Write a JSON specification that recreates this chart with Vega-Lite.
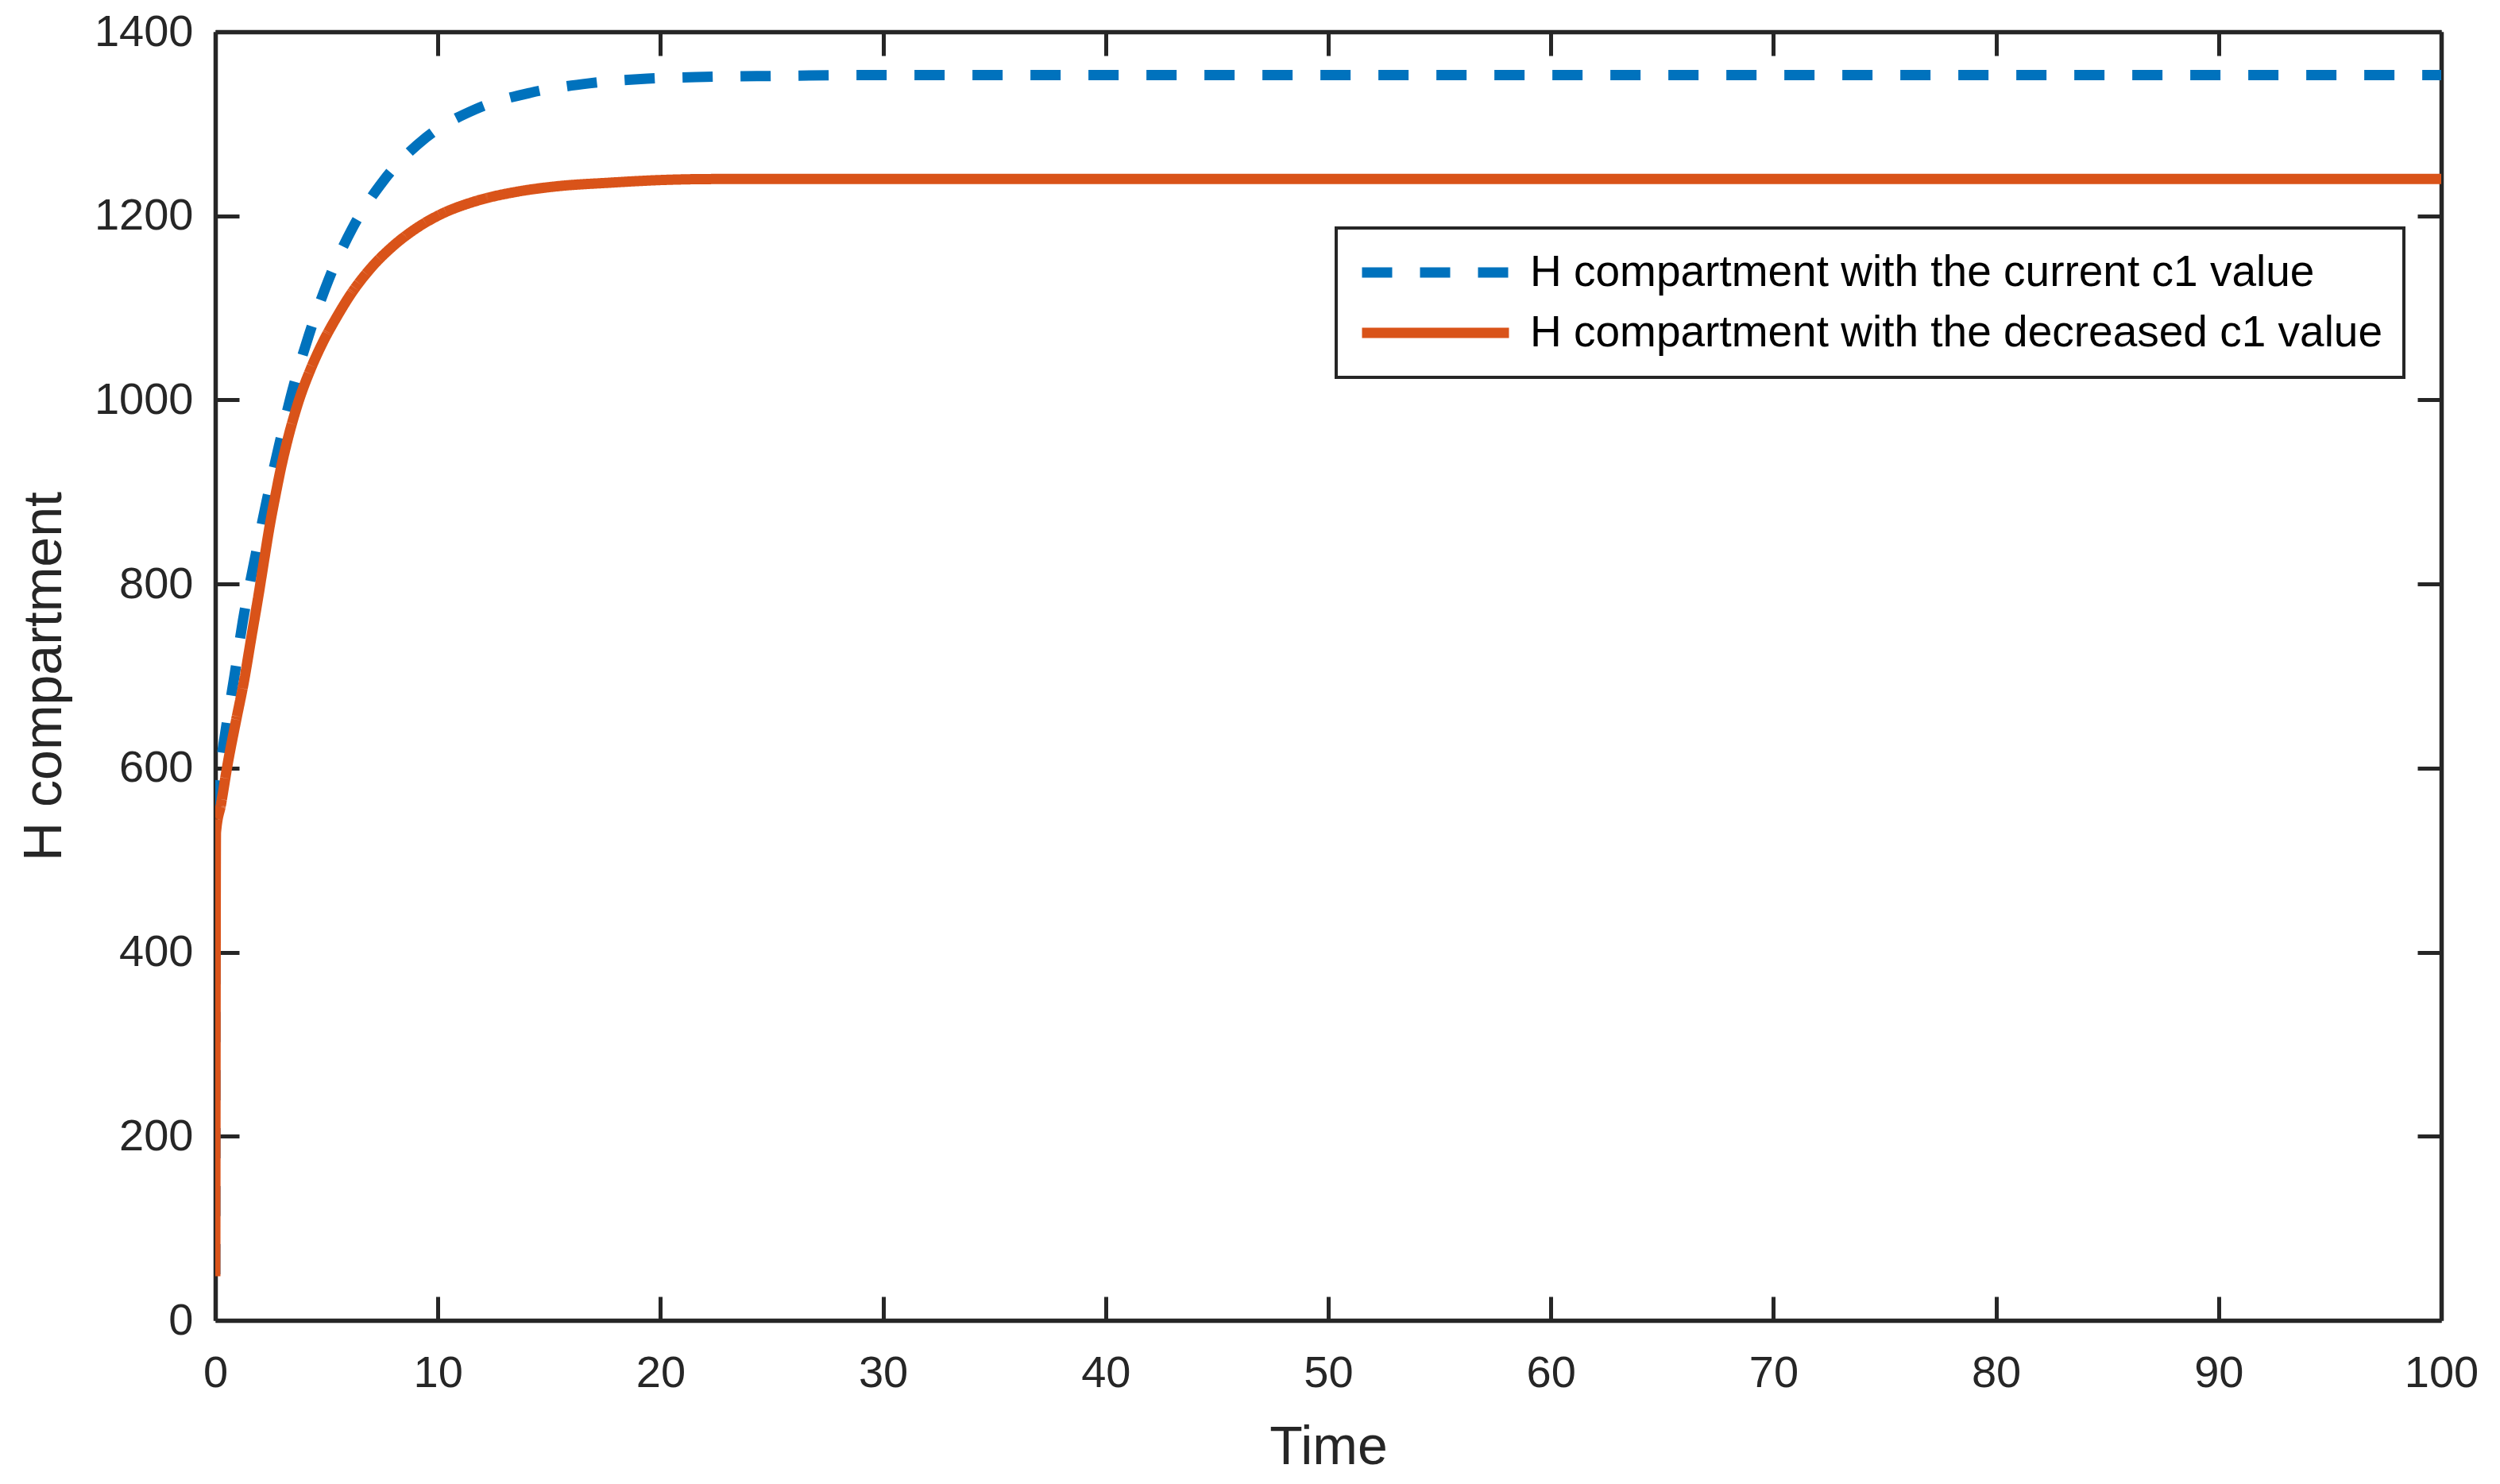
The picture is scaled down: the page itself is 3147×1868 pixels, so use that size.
{
  "$schema": "https://vega.github.io/schema/vega-lite/v6.json",
  "width": 2802,
  "height": 1622,
  "autosize": {"type": "none"},
  "padding": {"left": 271, "top": 40, "right": 74, "bottom": 206},
  "background": "white",
  "config": {
    "view": {"stroke": null},
    "font": "Liberation Sans",
    "legend": {
      "orient": "none",
      "legendX": 1411,
      "legendY": 247,
      "strokeColor": "#262626",
      "strokeWidth": 4,
      "fillColor": "white",
      "padding": 26,
      "symbolType": "stroke",
      "symbolSize": 34225,
      "symbolStrokeWidth": 13,
      "labelFontSize": 55,
      "labelFont": "Liberation Sans",
      "labelColor": "#000000",
      "labelOffset": 20,
      "labelLimit": 2000,
      "clipHeight": 60,
      "rowPadding": 16
    }
  },
  "data": {
    "values": [
      {"t": 0, "H": 50, "series": "H compartment with the current c1 value"},
      {"t": 0.02, "H": 560, "series": "H compartment with the current c1 value"},
      {"t": 0.08, "H": 574, "series": "H compartment with the current c1 value"},
      {"t": 0.44, "H": 637, "series": "H compartment with the current c1 value"},
      {"t": 0.86, "H": 700, "series": "H compartment with the current c1 value"},
      {"t": 1.24, "H": 760, "series": "H compartment with the current c1 value"},
      {"t": 1.75, "H": 824, "series": "H compartment with the current c1 value"},
      {"t": 2.27, "H": 886, "series": "H compartment with the current c1 value"},
      {"t": 2.84, "H": 948, "series": "H compartment with the current c1 value"},
      {"t": 3.45, "H": 1009, "series": "H compartment with the current c1 value"},
      {"t": 4.2, "H": 1070, "series": "H compartment with the current c1 value"},
      {"t": 5.08, "H": 1130, "series": "H compartment with the current c1 value"},
      {"t": 6.17, "H": 1187, "series": "H compartment with the current c1 value"},
      {"t": 7.55, "H": 1238, "series": "H compartment with the current c1 value"},
      {"t": 9.46, "H": 1285, "series": "H compartment with the current c1 value"},
      {"t": 11.7, "H": 1316, "series": "H compartment with the current c1 value"},
      {"t": 14.2, "H": 1334, "series": "H compartment with the current c1 value"},
      {"t": 16.8, "H": 1344, "series": "H compartment with the current c1 value"},
      {"t": 19.4, "H": 1349, "series": "H compartment with the current c1 value"},
      {"t": 22, "H": 1351, "series": "H compartment with the current c1 value"},
      {"t": 25, "H": 1352, "series": "H compartment with the current c1 value"},
      {"t": 30, "H": 1353, "series": "H compartment with the current c1 value"},
      {"t": 50, "H": 1353, "series": "H compartment with the current c1 value"},
      {"t": 100, "H": 1353, "series": "H compartment with the current c1 value"},
      {"t": 0, "H": 48, "series": "H compartment with the decreased c1 value"},
      {"t": 0.03, "H": 530, "series": "H compartment with the decreased c1 value"},
      {"t": 0.26, "H": 561, "series": "H compartment with the decreased c1 value"},
      {"t": 0.56, "H": 605, "series": "H compartment with the decreased c1 value"},
      {"t": 0.92, "H": 650, "series": "H compartment with the decreased c1 value"},
      {"t": 1.3, "H": 696, "series": "H compartment with the decreased c1 value"},
      {"t": 1.62, "H": 742, "series": "H compartment with the decreased c1 value"},
      {"t": 1.95, "H": 789, "series": "H compartment with the decreased c1 value"},
      {"t": 2.2, "H": 827, "series": "H compartment with the decreased c1 value"},
      {"t": 2.45, "H": 864, "series": "H compartment with the decreased c1 value"},
      {"t": 2.7, "H": 896, "series": "H compartment with the decreased c1 value"},
      {"t": 2.95, "H": 926, "series": "H compartment with the decreased c1 value"},
      {"t": 3.2, "H": 952, "series": "H compartment with the decreased c1 value"},
      {"t": 3.71, "H": 996, "series": "H compartment with the decreased c1 value"},
      {"t": 4.31, "H": 1035, "series": "H compartment with the decreased c1 value"},
      {"t": 4.84, "H": 1063, "series": "H compartment with the decreased c1 value"},
      {"t": 5.43, "H": 1089, "series": "H compartment with the decreased c1 value"},
      {"t": 6.09, "H": 1115, "series": "H compartment with the decreased c1 value"},
      {"t": 6.98, "H": 1143, "series": "H compartment with the decreased c1 value"},
      {"t": 7.93, "H": 1166, "series": "H compartment with the decreased c1 value"},
      {"t": 9.0, "H": 1186, "series": "H compartment with the decreased c1 value"},
      {"t": 10.07, "H": 1201, "series": "H compartment with the decreased c1 value"},
      {"t": 11.7, "H": 1216, "series": "H compartment with the decreased c1 value"},
      {"t": 13.5, "H": 1226, "series": "H compartment with the decreased c1 value"},
      {"t": 15.3, "H": 1232, "series": "H compartment with the decreased c1 value"},
      {"t": 17.7, "H": 1236, "series": "H compartment with the decreased c1 value"},
      {"t": 20.1, "H": 1239, "series": "H compartment with the decreased c1 value"},
      {"t": 22.4, "H": 1240, "series": "H compartment with the decreased c1 value"},
      {"t": 30, "H": 1240, "series": "H compartment with the decreased c1 value"},
      {"t": 50, "H": 1240, "series": "H compartment with the decreased c1 value"},
      {"t": 100, "H": 1240, "series": "H compartment with the decreased c1 value"}
    ]
  },
  "layer": [
    {
      "mark": {"type": "line", "strokeWidth": 13, "strokeCap": "butt", "strokeJoin": "round", "interpolate": "monotone", "clip": true},
      "encoding": {
        "x": {
          "field": "t", "type": "quantitative",
          "scale": {"domain": [0, 100], "nice": false, "zero": false},
          "axis": {
            "orient": "bottom", "values": [0, 10, 20, 30, 40, 50, 60, 70, 80, 90, 100],
            "grid": false, "ticks": false, "tickSize": 0,
            "domainWidth": 5.5, "domainColor": "#262626",
            "labelPadding": 39, "labelFontSize": 56, "labelColor": "#262626", "labelFont": "Liberation Sans",
            "labelFlush": false, "labelOverlap": false,
            "title": "Time", "titleFontSize": 68, "titleFontWeight": "normal", "titleColor": "#262626",
            "titleFont": "Liberation Sans", "titlePadding": 32
          }
        },
        "y": {
          "field": "H", "type": "quantitative",
          "scale": {"domain": [0, 1400], "nice": false, "zero": false},
          "axis": {
            "orient": "left", "values": [0, 200, 400, 600, 800, 1000, 1200, 1400], "format": "d",
            "grid": false, "ticks": false, "tickSize": 0,
            "domainWidth": 5.5, "domainColor": "#262626",
            "labelPadding": 28, "labelFontSize": 56, "labelColor": "#262626", "labelFont": "Liberation Sans",
            "labelFlush": false, "labelOverlap": false,
            "title": "H compartment", "titleFontSize": 68, "titleFontWeight": "normal", "titleColor": "#262626",
            "titleFont": "Liberation Sans", "titlePadding": 28
          }
        },
        "color": {
          "field": "series", "type": "nominal",
          "scale": {
            "domain": ["H compartment with the current c1 value", "H compartment with the decreased c1 value"],
            "range": ["#0072BD", "#D95319"]
          },
          "legend": {"title": null}
        },
        "strokeDash": {
          "field": "series", "type": "nominal",
          "scale": {
            "domain": ["H compartment with the current c1 value", "H compartment with the decreased c1 value"],
            "range": [[38, 35], [1, 0]]
          },
          "legend": {"title": null}
        }
      }
    },
    {
      "mark": {"type": "line", "opacity": 0},
      "encoding": {
        "x": {
          "field": "t", "type": "quantitative",
          "scale": {"domain": [0, 100], "nice": false, "zero": false},
          "axis": {
            "orient": "top", "grid": false, "labels": false, "ticks": false, "tickSize": 0, "title": null,
            "domainWidth": 5.5, "domainColor": "#262626"
          }
        },
        "y": {
          "field": "H", "type": "quantitative",
          "scale": {"domain": [0, 1400], "nice": false, "zero": false},
          "axis": {
            "orient": "right", "grid": false, "labels": false, "ticks": false, "tickSize": 0, "title": null,
            "domainWidth": 5.5, "domainColor": "#262626"
          }
        }
      }
    },
    {
      "mark": {"type": "line", "opacity": 0},
      "encoding": {
        "x": {
          "field": "t", "type": "quantitative",
          "scale": {"domain": [0, 100], "nice": false, "zero": false},
          "axis": {
            "orient": "bottom", "values": [0, 10, 20, 30, 40, 50, 60, 70, 80, 90, 100],
            "offset": -30, "grid": false, "labels": false, "domain": false, "title": null,
            "tickSize": 30, "tickWidth": 5, "tickColor": "#262626"
          }
        },
        "y": {
          "field": "H", "type": "quantitative",
          "scale": {"domain": [0, 1400], "nice": false, "zero": false},
          "axis": {
            "orient": "left", "values": [0, 200, 400, 600, 800, 1000, 1200, 1400],
            "offset": -30, "grid": false, "labels": false, "domain": false, "title": null,
            "tickSize": 30, "tickWidth": 5, "tickColor": "#262626"
          }
        }
      }
    },
    {
      "mark": {"type": "line", "opacity": 0},
      "encoding": {
        "x": {
          "field": "t", "type": "quantitative",
          "scale": {"domain": [0, 100], "nice": false, "zero": false},
          "axis": {
            "orient": "top", "values": [0, 10, 20, 30, 40, 50, 60, 70, 80, 90, 100],
            "offset": -30, "grid": false, "labels": false, "domain": false, "title": null,
            "tickSize": 30, "tickWidth": 5, "tickColor": "#262626"
          }
        },
        "y": {
          "field": "H", "type": "quantitative",
          "scale": {"domain": [0, 1400], "nice": false, "zero": false},
          "axis": {
            "orient": "right", "values": [0, 200, 400, 600, 800, 1000, 1200, 1400],
            "offset": -30, "grid": false, "labels": false, "domain": false, "title": null,
            "tickSize": 30, "tickWidth": 5, "tickColor": "#262626"
          }
        }
      }
    }
  ],
  "resolve": {"axis": {"x": "independent", "y": "independent"}}
}
